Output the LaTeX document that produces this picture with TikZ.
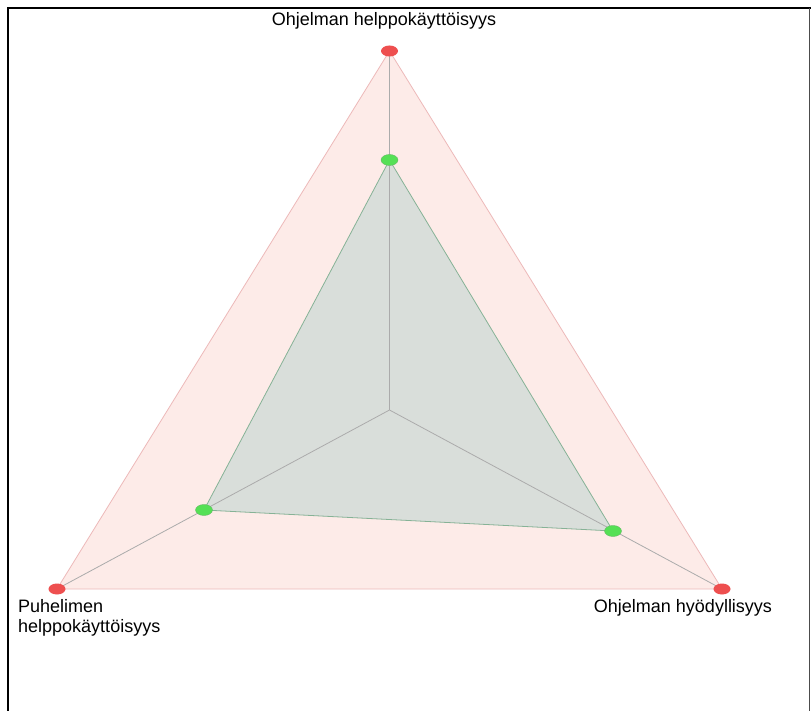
\documentclass[tikz,border=0pt]{standalone}
\usepackage{fontspec}
\setmainfont{Liberation Sans}
\usetikzlibrary{shapes.geometric}
\definecolor{outerfill}{HTML}{FDEBE8}
\definecolor{outeredge}{HTML}{EDB9B9}
\definecolor{innerfill}{HTML}{D9DEDA}
\definecolor{inneredge}{HTML}{86B296}
\definecolor{axisline}{HTML}{ABABAB}
\definecolor{reddot}{HTML}{EE4F4F}
\definecolor{greendot}{HTML}{55E055}
\tikzset{
  frameline/.style={line width=2.2pt, black},
  axis/.style={axisline, line width=0.8pt},
  maxdot/.style={ellipse, fill=reddot, minimum width=17pt, minimum height=11pt, inner sep=0pt},
  valdot/.style={ellipse, fill=greendot, draw=green!55!black!60, line width=0.4pt, minimum width=17pt, minimum height=11pt, inner sep=0pt},
  lbl/.style={font=\fontsize{18}{21.5}\selectfont, text=black, inner sep=0pt}
}
\begin{document}
\begin{tikzpicture}[x=1pt, y=-1pt]
\useasboundingbox (0,0) rectangle (811,711);
\fill[white] (0,0) rectangle (811,711);
% frame
\draw[frameline] (8,711) -- (8,8) -- (811,8);
\draw[black!70, line width=1pt] (809.5,8) -- (809.5,711);
% chart geometry
\coordinate (c) at (389.5,410);
\coordinate (t) at (389.5,51);
\coordinate (l) at (57,589);
\coordinate (r) at (722,589);
\coordinate (vt) at (389.5,160);
\coordinate (vl) at (204,510);
\coordinate (vr) at (613,531);
% maximum area
\filldraw[fill=outerfill, draw=outeredge, line width=0.8pt] (t) -- (r) -- (l) -- cycle;
% value area
\filldraw[fill=innerfill, draw=inneredge, line width=0.8pt] (vt) -- (vr) -- (vl) -- cycle;
% axes
\draw[axis] (c) -- (t);
\draw[axis] (c) -- (l);
\draw[axis] (c) -- (r);
% markers
\node[maxdot] (mt) at (t) {};
\node[maxdot] (ml) at (l) {};
\node[maxdot] (mr) at (r) {};
\node[valdot] (gt) at (vt) {};
\node[valdot] (gl) at (vl) {};
\node[valdot] (gr) at (vr) {};
% labels
\node[lbl] (lt) at (384,21) {Ohjelman helppokäyttöisyys};
\node[lbl, anchor=west, align=left] (ll) at (18,618) {Puhelimen\\[-1.5pt]helppokäyttöisyys};
\node[lbl] (lr) at (683,608) {Ohjelman hyödyllisyys};
\end{tikzpicture}
\end{document}
